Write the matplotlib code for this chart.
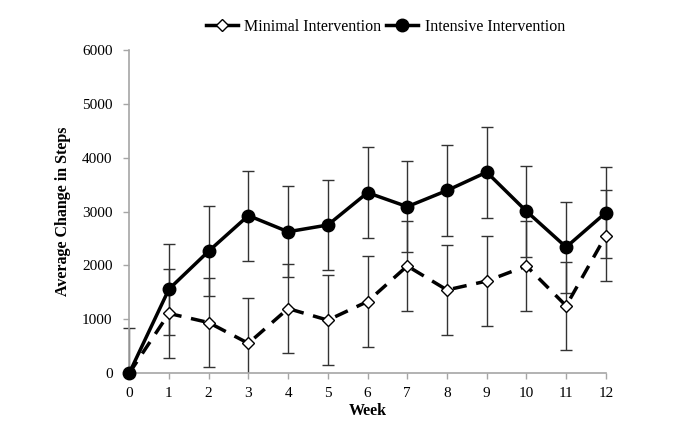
import matplotlib
matplotlib.use("Agg")
import matplotlib.pyplot as plt
from matplotlib.patches import Rectangle

plt.rcParams['font.family'] = ['Liberation Serif', 'DejaVu Serif']

weeks = [0, 1, 2, 3, 4, 5, 6, 7, 8, 9, 10, 11, 12]
minimal = [0, 1110, 940, 555, 1200, 985, 1330, 1990, 1545, 1710, 1990, 1250, 2555]
minimal_err = [840, 830, 830, 835, 830, 830, 840, 830, 830, 830, 830, 820, 835]
intensive = [0, 1560, 2265, 2925, 2625, 2750, 3350, 3090, 3390, 3730, 3005, 2340, 2980]
intensive_err = [0, 845, 840, 835, 840, 840, 840, 840, 845, 845, 840, 845, 840]
y_ticks = [0, 1000, 2000, 3000, 4000, 5000, 6000]

fig = plt.figure(figsize=(6.8, 4.33), dpi=100)
ax = fig.add_axes([0.19, 0.138, 0.701, 0.747])

clip_rect = Rectangle((-0.05, 0), 1.1, 1.2, transform=ax.transAxes, visible=False)
ax.add_patch(clip_rect)

for vals, errs in [(minimal, minimal_err), (intensive, intensive_err)]:
    eb = ax.errorbar(weeks, vals, yerr=errs, fmt='none', ecolor='#333333',
                     elinewidth=1.0, capsize=4, capthick=1.0, zorder=2)
    for art in eb.lines[1]:
        art.set_clip_path(clip_rect)
    for art in eb.lines[2]:
        art.set_clip_path(clip_rect)

l1, = ax.plot(weeks, minimal, linestyle=(0, (4, 2.8)), color='black', linewidth=2.5,
              marker='D', markersize=6, markerfacecolor='white', markeredgecolor='black',
              markeredgewidth=1.0, label='Minimal Intervention', zorder=3)
l2, = ax.plot(weeks, intensive, linestyle='-', color='black', linewidth=2.5,
              marker='o', markersize=9, markerfacecolor='black', markeredgecolor='black',
              label='Intensive Intervention', zorder=4)
l1.set_clip_on(False)
l2.set_clip_on(False)

ax.set_xlim(0, 12)
ax.set_ylim(0, 6000)
ax.set_xticks(weeks)
ax.set_yticks(y_ticks)
ax.set_xticklabels([str(w) for w in weeks])
ax.set_yticklabels([str(t) for t in y_ticks])

for s in ['top', 'right']:
    ax.spines[s].set_visible(False)
for s in ['left', 'bottom']:
    ax.spines[s].set_color('#a6a6a6')
    ax.spines[s].set_linewidth(1.2)
ax.tick_params(axis='both', colors='#a6a6a6', labelcolor='black', labelsize=11,
               length=4, width=1)
ax.tick_params(axis='y', pad=8)
ax.tick_params(axis='x', pad=6)

ax.set_xlabel('Week', fontsize=11.5, fontweight='bold', labelpad=2)
ax.set_ylabel('Average Change in Steps', fontsize=11.5, fontweight='bold', labelpad=8)

leg = fig.legend(loc='upper center', bbox_to_anchor=(0.567, 0.99), ncol=2,
                 frameon=False, fontsize=11.5, handlelength=2.0, handletextpad=0.4,
                 columnspacing=0.3)
for h in leg.legend_handles:
    h.set_linestyle('-')

fig.savefig('out.png', dpi=100)
